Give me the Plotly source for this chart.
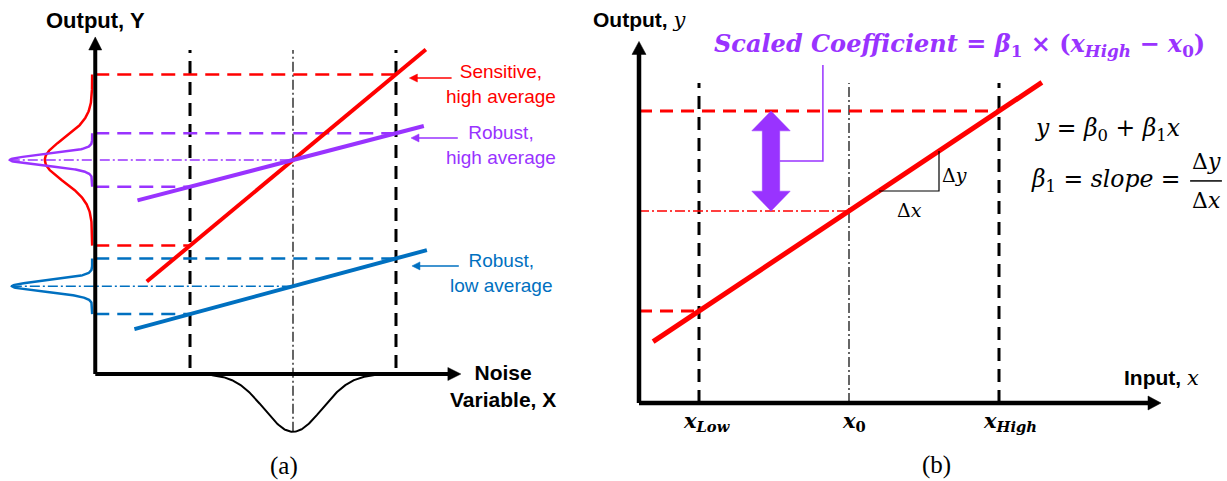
import numpy as np
import plotly.graph_objects as go

# ---------------- Panel (a) data: noise variable X, output Y ----------------
noise_levels = [-1.0, 0.0, 1.0]                     # X_low, X_0, X_high
a_names = ["Sensitive,<br>high average", "Robust,<br>high average", "Robust,<br>low average"]
a_center = [10.0, 10.0, 4.1]                        # output at X_0
a_slope = [4.0, 1.25, 1.3]                          # dY/dX
a_x_start = [-1.42, -1.51, -1.54]
a_x_end = [1.29, 1.27, 1.30]
a_out_sigma = [1.0, 0.25, 0.25]                     # spread of output distribution
a_out_peak = [0.46, 0.80, 0.78]                     # drawn height of output distribution
noise_sigma = 0.28
noise_peak = 2.7

# ---------------- Panel (b) data: y = beta0 + beta1 * x ----------------
beta0 = 1.625
beta1 = 0.625
b_x_points = [2.0, 7.0, 12.0]                       # x_Low, x_0, x_High
b_x_labels = ["<b><i>x</i><sub><i>Low</i></sub></b>", "<b><i>x</i><sub>0</sub></b>",
              "<b><i>x</i><sub><i>High</i></sub></b>"]
b_line_x = [0.47, 13.43]
b_delta_x = [8.0, 10.0]                             # slope triangle run

# ---------------- styles ----------------
A_COLORS = ["#FF0000", "#9933FF", "#0070C0"]
RED = "#FF0000"
PURPLE = "#9933FF"
DASH_V = "13px,8px"
DASH_H = "14px,8px"
DASHDOT = "10px,3px,2px,3px"
SANS = "Liberation Sans, Arial, sans-serif"
SERIF_MATH = "DejaVu Serif, serif"
SERIF = "Liberation Serif, Times New Roman, serif"

# pixels per data unit of each panel (set by the axis ranges below)
PX_A = (103.0, 21.4)
PX_B = (30.0, 32.0)

fig = go.Figure()


def line(xs, ys, color, width, dash=None, xa="x", ya="y"):
    fig.add_trace(go.Scatter(x=xs, y=ys, mode="lines",
                             line=dict(color=color, width=width, dash=dash),
                             xaxis=xa, yaxis=ya, hoverinfo="skip", showlegend=False))


def poly(xs, ys, color, xa="x", ya="y"):
    fig.add_trace(go.Scatter(x=xs, y=ys, mode="lines", fill="toself", fillcolor=color,
                             line=dict(color=color, width=0.5), xaxis=xa, yaxis=ya,
                             hoverinfo="skip", showlegend=False))


def head(tx, ty, dx, dy, length, width, color, scale, xa="x", ya="y"):
    """Triangular arrow head with its tip at (tx, ty), pointing along (dx, dy) in screen space."""
    sx, sy = scale
    bx, by = tx - dx * length / sx, ty - dy * length / sy
    nx, ny = -dy, dx
    poly([tx, bx + nx * width / 2 / sx, bx - nx * width / 2 / sx, tx],
         [ty, by + ny * width / 2 / sy, by - ny * width / 2 / sy, ty], color, xa, ya)


def text(x, y, s, size, color="black", family=SANS, xa="x", ya="y"):
    fig.add_annotation(x=x, y=y, xref=xa, yref=ya, text=s, showarrow=False,
                       font=dict(size=size, color=color, family=family),
                       xanchor="center", yanchor="middle", align="center")


# ===== Panel (a) =====
a_axis_x = -1.92
a_ref_top = 15.14
a_dist_base = -1.95

for xv in (noise_levels[0], noise_levels[2]):
    line([xv, xv], [0.28, a_ref_top], "black", 3, DASH_V)
line([noise_levels[1]] * 2, [-noise_peak, a_ref_top], "black", 1.2, DASHDOT)

for i in range(3):
    c, s, col = a_center[i], a_slope[i], A_COLORS[i]
    y_hi = c + s * noise_levels[2]
    y_lo = c + s * noise_levels[0]
    line([a_axis_x, noise_levels[2]], [y_hi, y_hi], col, 2.5, DASH_H)
    line([a_axis_x, noise_levels[0]], [y_lo, y_lo], col, 2.5, DASH_H)
    if i > 0:
        line([a_dist_base - a_out_peak[i], noise_levels[1]], [c, c], col, 1.3, DASHDOT)

for i in range(3):
    c, s, col = a_center[i], a_slope[i], A_COLORS[i]
    yy = np.linspace(c - s, c + s, 241)
    xx = a_dist_base - a_out_peak[i] * np.exp(-(yy - c) ** 2 / (2 * a_out_sigma[i] ** 2))
    line(xx, yy, col, 2.5)

for i in range(3):
    xs = np.array([a_x_start[i], a_x_end[i]])
    line(xs, a_center[i] + a_slope[i] * xs, A_COLORS[i], 4)

xn = np.linspace(noise_levels[0], noise_levels[2], 241)
line(xn, -noise_peak * np.exp(-xn ** 2 / (2 * noise_sigma ** 2)), "black", 2)

# axes of (a)
a_y_tip = 15.75
a_x_tip = 1.63
line([a_axis_x, a_axis_x], [0, a_y_tip - 0.4], "black", 4)
line([a_axis_x, a_x_tip - 0.08], [0, 0], "black", 4)
head(a_axis_x, a_y_tip, 0, 1, 13, 13, "black", PX_A)
head(a_x_tip, 0, 1, 0, 13, 13, "black", PX_A)

# labels of (a)
text(a_axis_x, 16.54, "<b>Output, Y</b>", 22)
text(2.04, -0.55, "<b>Noise<br>Variable, X</b>", 21)
text(-0.087, -4.3, "(a)", 25, family=SERIF)

lab_y = [13.57, 10.7, 4.72]
arr_y = [13.83, 11.03, 5.05]
arr_from = [1.54, 1.60, 1.61]
arr_to = [1.13, 1.146, 1.155]
for i in range(3):
    text(2.02, lab_y[i], a_names[i], 19, color=A_COLORS[i])
    line([arr_from[i], arr_to[i] + 6 / PX_A[0]], [arr_y[i], arr_y[i]], A_COLORS[i], 1.5)
    head(arr_to[i], arr_y[i], -1, 0, 8, 8, A_COLORS[i], PX_A)

# ===== Panel (b) =====
xb = dict(xa="x2", ya="y2")
y_of = lambda x: beta0 + beta1 * x
b_top = 10.0
for xv in (b_x_points[0], b_x_points[2]):
    line([xv, xv], [0, b_top], "black", 3, DASH_V, **xb)
line([b_x_points[1]] * 2, [0, b_top], "black", 1.2, DASHDOT, **xb)

line([0, b_x_points[2]], [y_of(b_x_points[2])] * 2, RED, 3, DASH_V, **xb)
line([0, b_x_points[0]], [y_of(b_x_points[0])] * 2, RED, 3, DASH_V, **xb)
line([0, b_x_points[1]], [y_of(b_x_points[1])] * 2, RED, 1.3, DASHDOT, **xb)

bx = np.array(b_line_x)
line(bx, y_of(bx), RED, 5, **xb)

# slope triangle
line([b_delta_x[0], b_delta_x[1], b_delta_x[1]],
     [y_of(b_delta_x[0]), y_of(b_delta_x[0]), y_of(b_delta_x[1])], "black", 1.2, **xb)

# double arrow = scaled coefficient
xc, hw, hh, hl = 4.4, 0.29, 0.64, 0.62
yt, yb = y_of(b_x_points[2]), y_of(b_x_points[1])
px = [xc, xc + hh, xc + hw, xc + hw, xc + hh, xc, xc - hh, xc - hw, xc - hw, xc - hh, xc]
py = [yt, yt - hl, yt - hl, yb + hl, yb + hl, yb, yb + hl, yb + hl, yt - hl, yt - hl, yt]
poly(px, py, PURPLE, **xb)
ym = (yt + yb) / 2
line([xc + hw, 6.13, 6.13], [ym, ym, 10.56], PURPLE, 1.5, **xb)

# axes of (b)
b_y_tip = 11.3
b_x_tip = 17.4
line([0, 0], [0, b_y_tip - 0.3], "black", 4.5, **xb)
line([0, b_x_tip - 0.3], [0, 0], "black", 4.5, **xb)
head(0, b_y_tip, 0, 1, 13, 14, "black", PX_B, **xb)
head(b_x_tip, 0, 1, 0, 13, 14, "black", PX_B, **xb)

# labels of (b)
text(0, 11.97, "<b>Output,</b> <span style='font-family:DejaVu Serif'><i>y</i></span>", 21, **xb)
text(17.4, 0.78, "<b>Input,</b> <span style='font-family:DejaVu Serif'><i>x</i></span>", 21, **xb)
tick_dx = [0.25, 0.15, 0.35]
for i in range(3):
    text(b_x_points[i] + tick_dx[i], -0.57, b_x_labels[i], 21, family=SERIF_MATH, **xb)
text(9.93, -1.94, "(b)", 25, family=SERIF, **xb)

text(10.67, 11.19, "<b><i>Scaled Coefficient</i> = <i>β</i><sub>1</sub> × (<i>x</i><sub><i>High</i></sub> − <i>x</i><sub>0</sub>)</b>",
     24, color=PURPLE, family=SERIF_MATH, **xb)
text(15.63, 8.56, "<i>y</i> = <i>β</i><sub>0</sub> + <i>β</i><sub>1</sub><i>x</i>", 23.5, family=SERIF_MATH, **xb)
text(15.55, 6.94, "<i>β</i><sub>1</sub> = <i>slope</i> =", 23.5, family=SERIF_MATH, **xb)
text(18.9, 7.56, "Δ<i>y</i>", 22, family=SERIF_MATH, **xb)
text(18.9, 6.32, "Δ<i>x</i>", 22, family=SERIF_MATH, **xb)
line([18.37, 19.43], [6.94, 6.94], "black", 1.5, **xb)
text(10.53, 7.125, "Δ<i>y</i>", 19, family=SERIF_MATH, **xb)
text(9.0, 6.03, "Δ<i>x</i>", 19, family=SERIF_MATH, **xb)

fig.update_layout(
    width=1227, height=481, margin=dict(l=0, r=0, t=0, b=0),
    font=dict(family=SANS, size=19, color="black"),
    paper_bgcolor="white", plot_bgcolor="white", showlegend=False,
    xaxis=dict(domain=[0, 0.5], range=[-2.845, 3.112], visible=False, fixedrange=True),
    yaxis=dict(domain=[0, 1], range=[-5.0, 17.477], visible=False, fixedrange=True),
    xaxis2=dict(domain=[0.5, 1], range=[-0.85, 19.6], visible=False, fixedrange=True, anchor="y2"),
    yaxis2=dict(domain=[0, 1], range=[-2.4375, 12.594], visible=False, fixedrange=True, anchor="x2"),
)

fig.write_html("out.html", config={"displayModeBar": False},
               post_script="document.body.style.margin='0';document.body.style.overflow='hidden';")
